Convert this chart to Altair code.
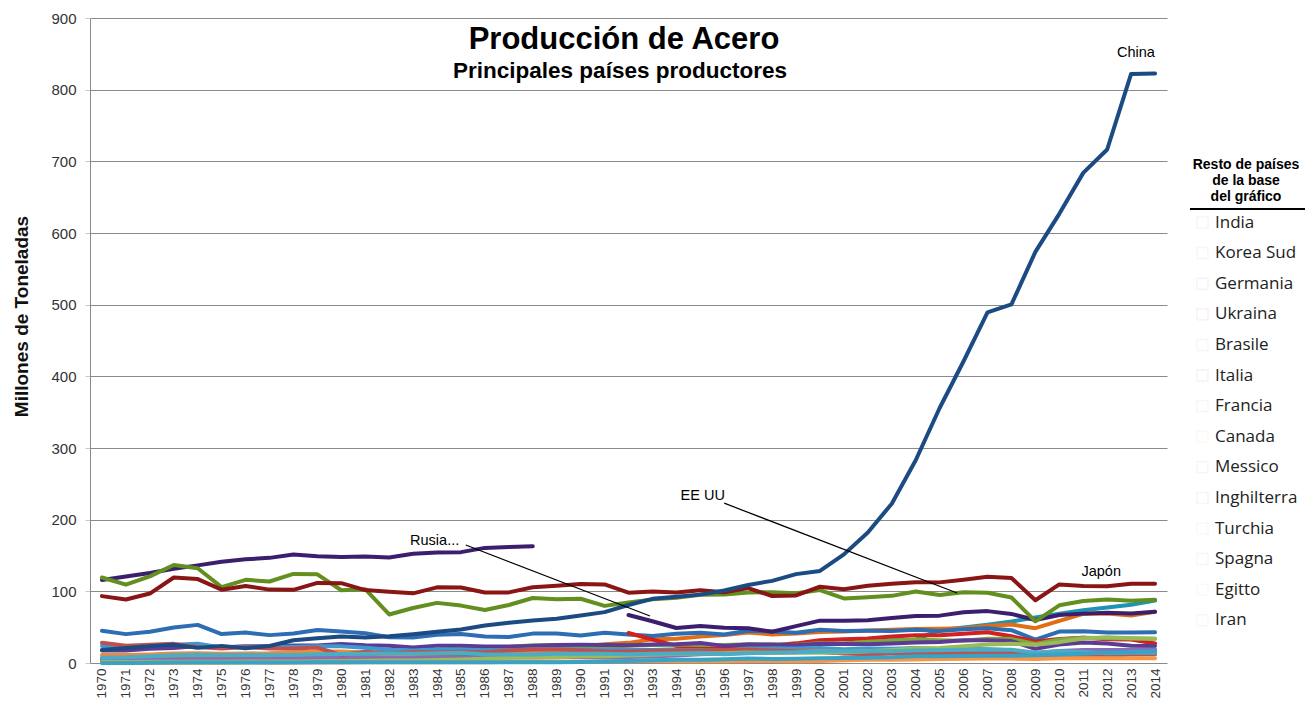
import altair as alt
import pandas as pd

years = list(range(1970, 2015))

# ---- main series (Mt) ----
china = [18.0, 21.0, 23.4, 25.5, 21.1, 23.9, 20.5, 23.7, 31.8, 34.5,
         37.1, 35.6, 37.2, 40.0, 43.5, 46.8, 52.2, 56.3, 59.4, 61.6,
         66.4, 71.0, 80.9, 89.5, 92.6, 95.4, 101.2, 108.9, 114.6, 124.0,
         128.5, 151.6, 182.2, 222.3, 282.9, 355.8, 421.0, 489.3, 500.3, 573.6,
         626.7, 683.9, 716.5, 822.0, 822.7]
japon = [93.3, 88.6, 96.9, 119.3, 117.1, 102.3, 107.4, 102.4, 102.1, 111.7,
         111.4, 101.7, 99.5, 97.2, 105.6, 105.3, 98.3, 98.5, 105.7, 107.9,
         110.3, 109.6, 98.1, 99.6, 98.3, 101.6, 98.8, 104.5, 93.5, 94.2,
         106.4, 102.9, 107.7, 110.5, 112.7, 112.5, 116.2, 120.2, 118.7, 87.5,
         109.6, 107.6, 107.2, 110.6, 110.7]
eeuu = [119.3, 109.3, 120.9, 136.8, 132.2, 105.8, 116.1, 113.7, 124.3, 123.7,
        101.5, 103.0, 67.7, 76.8, 83.9, 80.1, 74.0, 80.9, 90.7, 88.9,
        89.7, 79.7, 84.3, 88.8, 91.2, 95.2, 95.5, 98.5, 98.7, 97.4,
        101.8, 90.1, 91.6, 93.7, 99.7, 94.9, 98.6, 98.1, 91.4, 58.2,
        80.5, 86.4, 88.7, 86.9, 88.2]
urss = [115.9, 120.6, 125.6, 131.5, 136.2, 141.3, 144.8, 146.7, 151.5, 149.1,
        147.9, 148.5, 147.2, 152.5, 154.2, 154.7, 160.6, 161.9, 163.0]          # 1970-1988
rusia = [67.0, 58.3, 48.8, 51.6, 49.3, 48.5, 43.7, 51.5,
         59.1, 59.0, 59.8, 62.7, 65.6, 66.1, 70.8, 72.4, 68.5, 60.0,
         66.9, 68.9, 70.2, 69.0, 71.5]                                        # 1992-2014

# ---- rest of countries ----
germania = [45.0, 40.3, 43.7, 49.5, 53.2, 40.4, 42.4, 38.9, 41.3, 46.0,
            43.8, 41.6, 35.9, 35.7, 39.4, 40.5, 37.1, 36.2, 41.0, 41.1,
            38.4, 42.2, 39.7, 37.6, 40.8, 42.1, 39.8, 45.0, 44.0, 42.1,
            46.4, 44.8, 45.0, 44.8, 46.4, 44.5, 47.2, 48.6, 45.8, 32.7,
            43.8, 44.3, 42.7, 42.6, 42.9]
india = [6.3, 6.1, 6.9, 6.9, 7.1, 7.9, 9.4, 10.0, 10.1, 10.1,
         9.5, 10.8, 11.0, 10.2, 10.5, 11.9, 12.2, 13.1, 14.3, 14.6,
         15.0, 17.1, 18.1, 18.2, 19.3, 22.0, 23.8, 24.4, 23.5, 24.3,
         26.9, 27.3, 28.8, 31.8, 32.6, 45.8, 49.5, 53.5, 57.8, 63.5,
         68.9, 73.5, 77.3, 81.3, 87.3]
korea = [0.5, 0.5, 0.6, 1.2, 1.9, 2.0, 2.6, 4.2, 5.0, 7.6,
         8.6, 10.8, 11.8, 11.9, 13.0, 13.5, 14.6, 16.8, 19.1, 21.9,
         23.1, 26.0, 28.1, 33.0, 33.7, 36.8, 38.9, 42.6, 39.9, 41.0,
         43.1, 43.9, 45.4, 46.3, 47.5, 47.8, 48.5, 51.5, 53.6, 48.6,
         58.9, 68.5, 69.1, 66.1, 71.5]
ukraina = [41.8, 32.6, 24.1, 22.3, 22.3, 25.6, 24.4, 27.4,
           31.8, 33.1, 34.1, 36.9, 38.7, 38.6, 40.9, 42.8, 37.3, 29.9,
           33.4, 35.3, 33.0, 32.8, 27.2]                                      # 1992-2014
brasile = [5.4, 6.0, 6.5, 7.2, 7.5, 8.3, 9.2, 11.2, 12.2, 13.9,
           15.3, 13.2, 13.0, 14.7, 18.4, 20.5, 21.2, 22.2, 24.7, 25.1,
           20.6, 22.6, 23.9, 25.2, 25.7, 25.1, 25.2, 26.2, 25.8, 25.0,
           27.9, 26.7, 29.6, 31.1, 32.9, 31.6, 30.9, 33.8, 33.7, 26.5,
           32.9, 35.2, 34.5, 34.2, 33.9]
italia = [17.3, 17.5, 19.8, 21.0, 23.8, 21.8, 23.4, 23.3, 24.3, 24.3,
          26.5, 24.8, 24.0, 21.8, 24.1, 23.9, 22.9, 22.9, 23.8, 25.2,
          25.5, 25.1, 24.9, 25.8, 26.2, 27.8, 23.9, 25.8, 25.7, 24.9,
          26.8, 26.5, 26.1, 27.1, 28.6, 29.4, 31.6, 31.6, 30.6, 19.8,
          25.8, 28.7, 27.3, 24.1, 23.7]
francia = [23.8, 22.9, 24.1, 25.3, 27.0, 21.5, 23.2, 22.1, 22.8, 23.4,
           23.2, 21.3, 18.4, 17.6, 19.0, 18.8, 17.9, 17.7, 19.1, 19.3,
           19.0, 18.4, 18.0, 17.1, 18.0, 18.1, 17.6, 19.8, 20.1, 20.2,
           21.0, 19.3, 20.3, 19.8, 20.8, 19.5, 19.9, 19.3, 17.9, 12.8,
           15.4, 15.8, 15.6, 15.7, 16.1]
canada = [11.2, 11.0, 11.9, 13.4, 13.6, 13.0, 13.3, 13.6, 14.9, 16.1,
          15.9, 14.8, 11.9, 12.8, 14.7, 14.6, 14.1, 14.7, 14.9, 15.5,
          12.3, 13.0, 14.0, 14.4, 13.9, 14.4, 14.7, 15.6, 15.9, 16.3,
          16.6, 15.3, 16.3, 15.9, 16.3, 15.3, 15.5, 15.6, 14.8, 9.0,
          13.0, 13.1, 13.5, 12.4, 12.7]
messico = [3.9, 3.8, 4.4, 4.8, 5.1, 5.3, 5.3, 5.6, 6.8, 7.1,
           7.2, 7.7, 7.1, 7.0, 7.6, 7.4, 7.2, 7.6, 7.8, 7.9,
           8.7, 7.9, 8.5, 9.2, 10.3, 12.1, 13.2, 14.2, 14.2, 15.3,
           15.6, 13.3, 14.0, 15.2, 16.7, 16.2, 16.4, 17.6, 17.2, 14.1,
           16.9, 18.1, 18.1, 18.2, 19.0]
inghilterra = [28.3, 24.2, 25.3, 26.7, 22.4, 20.1, 22.3, 20.4, 20.3, 21.5,
               11.3, 15.6, 13.7, 15.0, 15.1, 15.7, 14.8, 17.4, 19.0, 18.7,
               17.8, 16.5, 16.2, 16.6, 17.3, 17.6, 18.0, 18.5, 17.3, 16.3,
               15.2, 13.5, 11.7, 13.1, 13.8, 13.2, 13.9, 14.3, 13.5, 10.1,
               9.7, 9.5, 9.6, 11.9, 12.1]
turchia = [1.3, 1.5, 1.6, 1.6, 1.6, 1.6, 2.2, 2.0, 2.1, 2.5,
           2.5, 3.0, 3.4, 3.5, 4.3, 4.9, 5.9, 7.2, 8.0, 7.9,
           9.4, 9.3, 10.3, 11.5, 12.6, 13.2, 13.6, 14.5, 14.1, 14.3,
           14.3, 15.0, 16.5, 18.3, 20.5, 21.0, 23.3, 25.8, 26.8, 25.3,
           29.1, 34.1, 35.9, 34.7, 34.0]
spagna = [7.4, 8.0, 9.5, 10.8, 11.5, 11.1, 11.0, 11.2, 11.3, 12.3,
          12.6, 13.0, 13.2, 13.0, 13.5, 14.2, 11.9, 11.7, 11.9, 12.8,
          12.9, 12.8, 12.3, 12.9, 13.4, 13.9, 12.2, 13.7, 14.8, 14.9,
          15.9, 16.5, 16.4, 16.3, 17.6, 17.8, 18.4, 19.0, 18.6, 14.4,
          16.3, 15.5, 13.6, 14.3, 14.2]
egitto = [0.3, 0.3, 0.3, 0.4, 0.4, 0.4, 0.6, 0.5, 0.7, 0.8,
          0.8, 0.9, 0.9, 0.9, 0.9, 1.0, 1.2, 1.5, 1.8, 1.9,
          2.2, 2.5, 2.5, 2.8, 2.6, 2.6, 2.6, 2.7, 2.9, 2.6,
          2.8, 3.8, 4.4, 4.4, 4.8, 5.6, 6.0, 6.2, 6.2, 5.5,
          6.7, 6.5, 6.6, 6.8, 6.5]
iran = [0.0, 0.1, 0.5, 0.6, 0.6, 0.6, 0.6, 0.6, 0.6, 1.0,
        1.2, 1.2, 1.2, 1.2, 1.0, 1.1, 1.1, 1.2, 1.1, 1.2,
        1.4, 2.2, 2.9, 3.7, 4.5, 4.7, 5.4, 6.3, 5.6, 6.1,
        6.6, 6.9, 7.3, 7.9, 9.4, 9.4, 9.8, 10.1, 10.0, 10.9,
        12.0, 13.0, 14.5, 15.4, 16.3]

rest_names = ["India", "Korea Sud", "Germania", "Ukraina", "Brasile", "Italia",
              "Francia", "Canada", "Messico", "Inghilterra", "Turchia", "Spagna",
              "Egitto", "Iran"]
rest_values = [india, korea, germania, ukraina, brasile, italia, francia, canada,
               messico, inghilterra, turchia, spagna, egitto, iran]
rest_start = [1970, 1970, 1970, 1992, 1970, 1970, 1970, 1970, 1970, 1970, 1970,
              1970, 1970, 1970]
rest_colors = ["#1f93b3", "#e26d14", "#2c6db3", "#d21f1f", "#7aa83a", "#5c3b94",
               "#3d9ad1", "#ef8a3c", "#8c6bb8", "#c0504d", "#9bbb59", "#4bacc6",
               "#f79646", "#38a3c4"]

main_names = ["URSS", "Rusia", "EE UU", "Japón", "China"]
main_values = [urss, rusia, eeuu, japon, china]
main_start = [1970, 1992, 1970, 1970, 1970]
main_colors = ["#3b1f6e", "#3b1f6e", "#628f1f", "#8a1515", "#1c4a82"]

# annotations (year, value, text)
ann_text = ["China", "Japón", "EE UU", "Rusia..."]
ann_x = [2013.2, 2011.75, 1995.1, 1983.9]
ann_y = [851, 127, 233, 170]
lead_x = [1996.0, 1985.2]
lead_y = [223, 164.6]
lead_x2 = [2005.73, 1992.9]
lead_y2 = [97.7, 65.6]

# ---- build tables ----
rows = []
for n, s, vals in zip(rest_names, rest_start, rest_values):
    for i, v in enumerate(vals):
        rows.append({"country": n, "year": s + i, "value": v})
df_rest = pd.DataFrame(rows)

rows = []
for n, s, vals, c in zip(main_names, main_start, main_values, main_colors):
    for i, v in enumerate(vals):
        rows.append({"series": n, "year": s + i, "value": v, "col": c})
df_main = pd.DataFrame(rows)

df_ann = pd.DataFrame({"year": ann_x, "value": ann_y, "t": ann_text})
df_lead = pd.DataFrame({"year": lead_x, "value": lead_y, "year2": lead_x2, "value2": lead_y2})

W, H = 1077, 645
FONT = "Liberation Sans"

xscale = alt.Scale(domain=[1969.5, 2014.5], nice=False, zero=False)
yscale = alt.Scale(domain=[0, 900], nice=False)

xaxis = alt.Axis(values=years, format="d", labelAngle=270, labelFont=FONT,
                 labelFontSize=13.5, labelColor="#333333", grid=False, ticks=False,
                 domain=False, labelPadding=5, labelOverlap=False, labelFlush=False,
                 title=None)
yaxis = alt.Axis(values=list(range(0, 901, 100)), grid=True, gridColor="#8a8a8a",
                 gridWidth=1, domainColor="#8a8a8a", tickColor="#c8c8c8", tickSize=5,
                 labelFont=FONT, labelFontSize=15, labelColor="#333333", labelPadding=9,
                 title="Millones de Toneladas", titleFont=FONT, titleFontSize=19,
                 titleFontWeight="bold", titleColor="#111111", titleAngle=270,
                 titleX=-69, titleY=298, titleAlign="center", titleBaseline="middle")

X = alt.X("year:Q", scale=xscale, axis=xaxis)
Y = alt.Y("value:Q", scale=yscale, axis=yaxis)

rest = alt.Chart(df_rest).mark_line(strokeWidth=4, strokeJoin="round", strokeCap="round").encode(
    x=X, y=Y,
    color=alt.Color("country:N", scale=alt.Scale(domain=rest_names, range=rest_colors),
                    legend=alt.Legend(
                        orient="none", legendX=1103, legendY=140,
                        title=["Resto de países", "de la base", "del gráfico"],
                        titleFont=FONT, titleFontSize=14, titleFontWeight="bold",
                        titleColor="#000000", titleAlign="center", titleAnchor="middle",
                        titleLineHeight=16, titlePadding=10,
                        labelFont="Open Sans", labelFontSize=17, labelColor="#222222",
                        symbolType="square", symbolSize=120, symbolOpacity=0.06,
                        rowPadding=12.6, values=rest_names)),
)

main = alt.Chart(df_main).mark_line(strokeWidth=4, strokeJoin="round", strokeCap="round").encode(
    x=X, y=Y,
    color=alt.Color("col:N", scale=None),
    detail="series:N",
)

ann = alt.Chart(df_ann).mark_text(font=FONT, fontSize=14.5, color="#000000").encode(
    x=X, y=Y, text="t:N")

leads = alt.Chart(df_lead).mark_rule(color="#000000", strokeWidth=1.2).encode(
    x=X, y=Y, x2="year2:Q", y2="value2:Q")

title1 = alt.Chart(pd.DataFrame({"t": ["Producción de Acero"]})).mark_text(
    font=FONT, fontSize=31, fontWeight="bold", color="#000000", baseline="alphabetic"
).encode(x=alt.value(534), y=alt.value(31), text="t:N")
title2 = alt.Chart(pd.DataFrame({"t": ["Principales países productores"]})).mark_text(
    font=FONT, fontSize=22.5, fontWeight="bold", color="#000000", baseline="alphabetic"
).encode(x=alt.value(530), y=alt.value(60), text="t:N")

underline = alt.Chart(pd.DataFrame({"a": [0]})).mark_rule(color="#000000", strokeWidth=2).encode(
    x=alt.value(1100), x2=alt.value(1215), y=alt.value(191))

chart = alt.layer(rest, main, leads, ann, title1, title2, underline).properties(
    width=W, height=H,
    autosize=alt.AutoSizeParams(type="none"),
    padding={"left": 82, "top": 10, "right": 138, "bottom": 39},
    background="#ffffff",
).configure_view(stroke=None)

chart.save("out.html", embed_options={"renderer": "svg", "actions": False})
